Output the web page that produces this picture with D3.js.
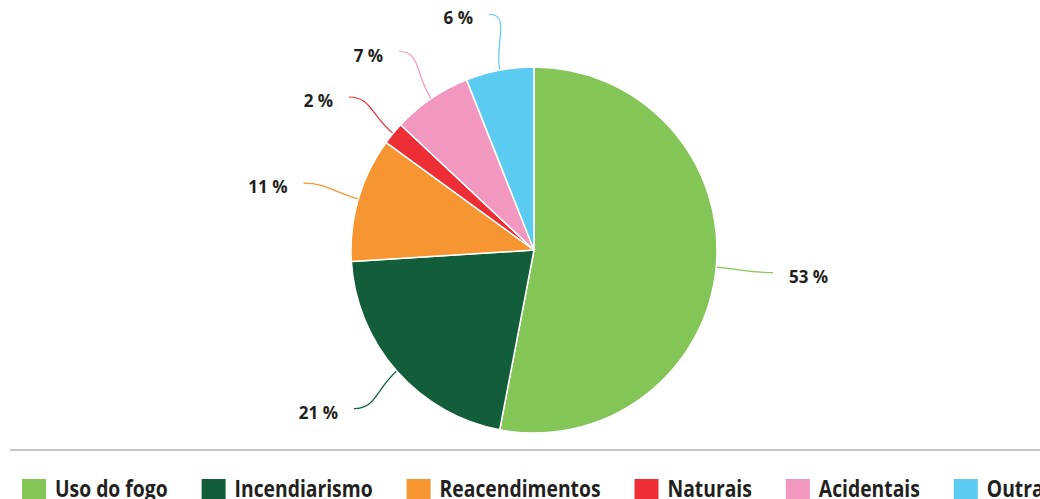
<!DOCTYPE html>
<html>
<head>
<meta charset="utf-8">
<script src="https://cdn.jsdelivr.net/npm/d3@7"></script>
<style>
  body { margin: 0; background: #fff; }
  svg { display: block; }
</style>
</head>
<body>
<script>
let categories = ["Uso do fogo", "Incendiarismo", "Reacendimentos", "Naturais", "Acidentais", "Outras"];
let values = [53, 21, 11, 2, 7, 6];
let colors = ["#84c557", "#135e3a", "#f69532", "#ee2e36", "#f297c0", "#5bcbf1"];

let size = {width: 1040, height: 499};
let center = {x: 534, y: 250};
let radius = 183;
let labelRadius = 240;

let svg = d3.select("body").append("svg")
    .attr("width", size.width)
    .attr("height", size.height);

let data = categories.map((c, i) => ({name: c, value: values[i], color: colors[i]}));

let pie = d3.pie()
    .sort(null)
    .value(d => d.value);

let arc = d3.arc()
    .innerRadius(0)
    .outerRadius(radius);

let arcs = pie(data);

let g = svg.append("g")
    .attr("transform", `translate(${center.x},${center.y})`);

// connectors first, under the slices
let point = (a, r) => [r * Math.sin(a), -r * Math.cos(a)];

let connector = d => {
    let a = (d.startAngle + d.endAngle) / 2;
    let p0 = point(a, radius);
    let p1 = point(a, radius + 28);
    let p3 = point(a, labelRadius);
    let side = p3[0] > 0 ? 1 : -1;
    let p2 = [p3[0] - side * 22, p3[1]];
    let path = d3.path();
    path.moveTo(p0[0], p0[1]);
    path.bezierCurveTo(p1[0], p1[1], p2[0], p2[1], p3[0], p3[1]);
    return path.toString();
};

g.selectAll("path.connector")
    .data(arcs)
    .join("path")
    .attr("class", "connector")
    .attr("fill", "none")
    .attr("stroke", d => d.data.color)
    .attr("stroke-width", 1.2)
    .attr("d", connector);

g.selectAll("path.slice")
    .data(arcs)
    .join("path")
    .attr("class", "slice")
    .attr("fill", d => d.data.color)
    .attr("stroke", "#fff")
    .attr("stroke-width", 1.5)
    .attr("stroke-linejoin", "round")
    .attr("d", arc);

g.selectAll("text.label")
    .data(arcs)
    .join("text")
    .attr("class", "label")
    .each(function (d) {
        let a = (d.startAngle + d.endAngle) / 2;
        let p3 = point(a, labelRadius);
        let side = p3[0] > 0 ? 1 : -1;
        d3.select(this)
            .attr("x", p3[0] + side * 16)
            .attr("y", p3[1] + 10)
            .attr("text-anchor", side > 0 ? "start" : "end");
    })
    .attr("font-family", "'Open Sans', sans-serif")
    .attr("font-weight", "bold")
    .attr("font-size", 17)
    .attr("fill", "#231f20")
    .text(d => `${d.data.value} %`);

// separator line
svg.append("line")
    .attr("x1", 10)
    .attr("x2", size.width)
    .attr("y1", 450)
    .attr("y2", 450)
    .attr("stroke", "#c6c6c6")
    .attr("stroke-width", 2);

// legend (condensed look: squeeze the text horizontally)
let squeeze = 0.84;
let legend = svg.append("g")
    .attr("transform", "translate(22,479)");

let lx = 0;
data.forEach(d => {
    let item = legend.append("g")
        .attr("transform", `translate(${lx},0)`);
    item.append("rect")
        .attr("width", 24)
        .attr("height", 20)
        .attr("fill", d.color);
    let t = item.append("text")
        .attr("transform", `translate(33,18) scale(${squeeze},1)`)
        .attr("font-family", "'Open Sans', sans-serif")
        .attr("font-weight", "bold")
        .attr("font-size", 23)
        .attr("fill", "#231f20")
        .text(d.name);
    lx += 33 + t.node().getComputedTextLength() * squeeze + 34;
});
</script>
</body>
</html>
